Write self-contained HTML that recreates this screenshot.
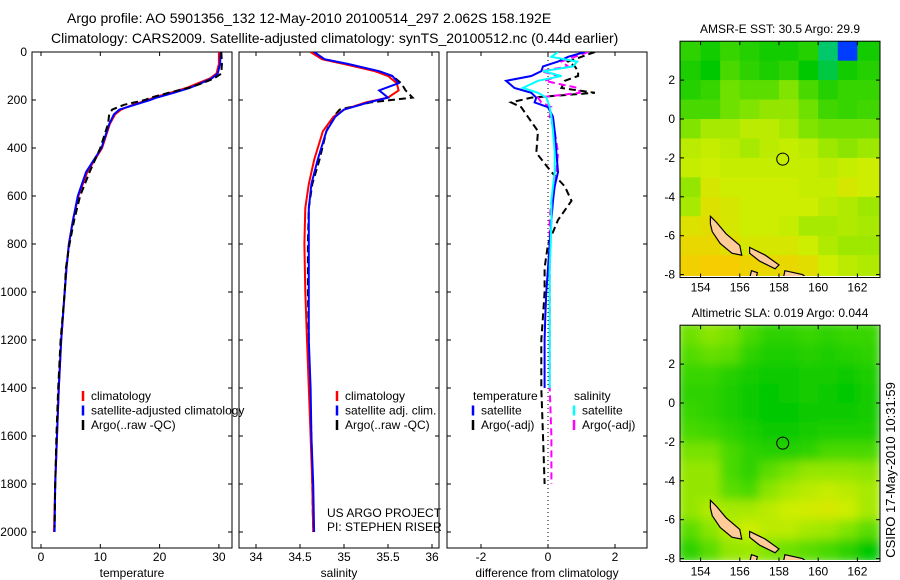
<!DOCTYPE html>
<html><head><meta charset="utf-8"><style>
body{margin:0;background:#fff}
svg{display:block;font-family:"Liberation Sans",sans-serif}
</style></head><body>
<svg id="fig" width="900" height="580" viewBox="0 0 900 580">
<defs>
<filter id="blur" x="0" y="0" width="1" height="1"><feGaussianBlur stdDeviation="5"/></filter>
<clipPath id="clipSst"><rect x="680" y="41" width="200" height="235"/></clipPath>
<clipPath id="clipSla"><rect x="680" y="325" width="200" height="235"/></clipPath>
<clipPath id="clipP1"><rect x="32" y="52" width="199" height="496"/></clipPath>
<clipPath id="clipP2"><rect x="239" y="52" width="200" height="496"/></clipPath>
<clipPath id="clipP3"><rect x="447" y="52" width="200" height="496"/></clipPath>
</defs>
<text x="67" y="23" font-size="14">Argo profile: AO 5901356_132 12-May-2010 20100514_297 2.062S 158.192E</text>
<text x="51" y="43" font-size="14">Climatology: CARS2009. Satellite-adjusted climatology: synTS_20100512.nc (0.44d earlier)</text>
<g id="g"></g>
<text transform="translate(895,470) rotate(-90)" text-anchor="middle" font-size="13">CSIRO 17-May-2010 10:31:59</text>
</svg>
<script>
// ---- profile data (depth in dbar) ----
const tClimDepth=[0,50,90,110,130,150,170,190,200,220,240,260,300,400,500,600,700,800,900,1000,1200,1400,1600,1800,2000];
const tClimVal=[30.0,30.0,29.6,28.5,26.5,24.5,21.8,19.0,18.0,15.5,13.5,12.5,11.6,10.3,7.8,6.3,5.4,4.7,4.3,4.0,3.4,3.0,2.7,2.4,2.2];
const tSatVal=[30.3,30.2,29.8,28.8,27.0,25.0,22.4,19.5,18.4,15.8,13.2,12.3,11.5,10.2,7.6,6.2,5.4,4.7,4.3,4.0,3.4,3.0,2.7,2.4,2.3];
const tArgoDepth=[0,50,90,110,130,150,170,190,200,220,240,260,300,400,500,600,700,800,900,1000,1200,1400,1600,1800,1980];
const tArgoVal=[30.4,30.5,30.4,29.2,27.2,24.8,21.5,18.5,17.5,14.0,12.0,11.5,11.3,10.0,8.2,6.6,5.6,4.8,4.2,4.0,3.3,2.9,2.6,2.4,2.3];
const sClimDepth=[0,30,50,80,100,130,160,190,210,240,270,330,450,550,650,800,1000,1200,1400,1600,1800,2000];
const sClimVal=[34.62,34.75,35.0,35.35,35.5,35.6,35.62,35.5,35.25,35.0,34.88,34.76,34.66,34.6,34.56,34.55,34.56,34.58,34.6,34.62,34.64,34.65];
const sSatVal=[34.66,34.78,35.05,35.4,35.55,35.62,35.4,35.5,35.28,35.0,34.9,34.8,34.7,34.63,34.6,34.6,34.6,34.6,34.62,34.63,34.65,34.66];
const sArgoVal=[34.64,34.76,35.02,35.38,35.55,35.65,35.7,35.78,35.3,34.95,34.88,34.8,34.72,34.64,34.6,34.59,34.59,34.6,34.61,34.63,34.64,34.65];
const dDepth=[0,20,40,60,80,100,120,150,170,190,210,230,270,330,420,500,560,620,700,800,900,1000,1100,1200,1300,1400,1600,1800];
const dTempSat=[1.1,0.6,0.3,-0.15,-0.2,-0.5,-1.25,-1.0,-0.5,-0.35,-0.4,0.0,0.15,0.2,0.25,0.3,0.2,0.15,0.1,0.05,0.0,-0.05,-0.08,-0.1,-0.1,-0.1,null,null];
const dSalSat=[0.3,0.1,0.87,0.75,-0.15,0.4,-0.3,-0.75,-0.3,-0.05,0.0,0.05,0.1,0.15,0.2,0.2,0.15,0.1,0.1,0.08,0.05,0.05,0.05,0.05,0.05,0.05,null,null];
const dTempArgo=[1.4,1.0,0.6,0.8,0.9,0.9,0.5,0.4,1.4,-0.5,-1.1,-0.8,-0.6,-0.3,-0.35,0.1,0.5,0.7,0.3,0.0,-0.1,-0.1,-0.15,-0.2,-0.2,-0.2,-0.15,-0.1];
const dSalArgo=[1.2,0.8,0.4,0.6,-0.2,0.3,-0.1,0.9,0.95,-0.3,-0.2,0.1,0.05,0.2,0.3,0.25,0.2,0.1,0.05,0.05,0.05,0.05,0.05,0.05,0.05,0.05,0.1,0.1];
const depthTicks=[0,200,400,600,800,1000,1200,1400,1600,1800,2000];
const tempTicks=[0,10,20,30];
const salTicks=[34,34.5,35,35.5,36];
const diffTicks=[-2,0,2];
// ---- map data (rows lat 4 -> -8, cols lon 153 -> 163) ----
const mapLons=[153,154,155,156,157,158,159,160,161,162];
const mapLats=[4,3,2,1,0,-1,-2,-3,-4,-5,-6,-7];
const sstGrid=[
[0.55,0.52,0.56,0.54,0.52,0.52,0.54,0.42,0.20,0.52],
[0.53,0.50,0.58,0.55,0.53,0.55,0.50,0.45,0.52,0.54],
[0.54,0.56,0.62,0.60,0.60,0.64,0.58,0.54,0.56,0.56],
[0.58,0.58,0.62,0.64,0.66,0.66,0.62,0.57,0.56,0.57],
[0.64,0.68,0.68,0.70,0.70,0.68,0.64,0.62,0.62,0.62],
[0.70,0.71,0.70,0.68,0.70,0.71,0.70,0.67,0.65,0.67],
[0.71,0.72,0.71,0.71,0.71,0.71,0.71,0.70,0.71,0.72],
[0.66,0.74,0.72,0.72,0.72,0.72,0.71,0.71,0.74,0.72],
[0.68,0.76,0.74,0.72,0.72,0.72,0.72,0.70,0.69,0.67],
[0.76,0.77,0.74,0.72,0.72,0.71,0.68,0.68,0.69,0.68],
[0.79,0.79,0.77,0.74,0.74,0.74,0.72,0.69,0.67,0.67],
[0.81,0.82,0.82,0.80,0.79,0.79,0.77,0.72,0.70,0.69]];
const slaGrid=[
[0.62,0.65,0.63,0.58,0.55,0.55,0.56,0.55,0.56,0.56],
[0.59,0.61,0.60,0.55,0.53,0.53,0.54,0.53,0.54,0.55],
[0.56,0.56,0.54,0.52,0.51,0.51,0.52,0.52,0.51,0.53],
[0.55,0.55,0.53,0.51,0.50,0.51,0.52,0.51,0.50,0.52],
[0.56,0.55,0.53,0.51,0.50,0.50,0.51,0.51,0.51,0.52],
[0.58,0.57,0.55,0.53,0.51,0.51,0.52,0.53,0.53,0.53],
[0.63,0.63,0.58,0.55,0.54,0.54,0.55,0.58,0.58,0.58],
[0.66,0.66,0.58,0.55,0.60,0.63,0.66,0.66,0.66,0.65],
[0.66,0.66,0.60,0.58,0.65,0.68,0.70,0.71,0.70,0.68],
[0.66,0.69,0.68,0.68,0.70,0.72,0.73,0.74,0.72,0.68],
[0.60,0.65,0.70,0.72,0.70,0.70,0.68,0.67,0.64,0.60],
[0.55,0.60,0.66,0.67,0.64,0.62,0.60,0.58,0.55,0.50]];
const argoLon=158.192, argoLat=-2.062;
const sstLabel="AMSR-E SST: 30.5 Argo: 29.9";
const slaLabel="Altimetric SLA: 0.019 Argo: 0.044";
const mapLonTicks=[154,156,158,160,162];
const mapLatTicks=[2,0,-2,-4,-6,-8];

const NS="http://www.w3.org/2000/svg";
const G=document.getElementById('g');
function mk(tag,attrs,parent){const e=document.createElementNS(NS,tag);for(const k in attrs)e.setAttribute(k,attrs[k]);(parent||G).appendChild(e);return e;}
function txt(x,y,s,size,anchor,parent){const e=mk('text',{x:x,y:y,'font-size':size,'text-anchor':anchor||'start'},parent);e.textContent=s;return e;}

const yD=d=>52+d*0.24;
const xT=t=>41+t*5.93;
const xS=s=>256+(s-34)*88;
const xDf=v=>548+v*33.5;

function panel(x0,name,ticks,xf,label){
  const r=mk('rect',{x:x0,y:52,width:200,height:496,fill:'none',stroke:'#000','stroke-width':1});
  
  
  depthTicks.forEach(d=>{mk('line',{x1:x0,x2:x0+4,y1:yD(d),y2:yD(d),stroke:'#000'});mk('line',{x1:x0+196,x2:x0+200,y1:yD(d),y2:yD(d),stroke:'#000'});});
  ticks.forEach(v=>{const x=xf(v);mk('line',{x1:x,x2:x,y1:548,y2:544,stroke:'#000'});mk('line',{x1:x,x2:x,y1:52,y2:56,stroke:'#000'});
    const t=txt(x,561,String(v),12,'middle');});
  const lt=txt(x0+100,577,label,12,'middle');
  
  
}
panel(32,'temperature-panel',tempTicks,xT,'temperature');
panel(239,'salinity-panel',salTicks,xS,'salinity');
panel(447,'difference-panel',diffTicks,xDf,'difference from climatology');
depthTicks.forEach(d=>{const t=txt(27,yD(d)+4,String(d),12,'end');});

function line(depths,vals,xf,color,w,dash,clip,name){
  let pts=[];depths.forEach((d,i)=>{if(vals[i]!==null)pts.push(xf(vals[i]).toFixed(1)+','+yD(d).toFixed(1));});
  const p=mk('polyline',{points:pts.join(' '),fill:'none',stroke:color,'stroke-width':w,'clip-path':'url(#'+clip+')'});
  if(dash)p.setAttribute('stroke-dasharray',dash);
  
  
}
line(tClimDepth,tClimVal,xT,'#f00',2,null,'clipP1','temperature-climatology-line');
line(tClimDepth,tSatVal,xT,'#00f',2,null,'clipP1','temperature-satellite-line');
line(tArgoDepth,tArgoVal,xT,'#000',2,'7,4','clipP1','temperature-argo-line');
line(sClimDepth,sArgoVal,xS,'#000',2,'7,4','clipP2','salinity-argo-line');
line(sClimDepth,sClimVal,xS,'#f00',2,null,'clipP2','salinity-climatology-line');
line(sClimDepth,sSatVal,xS,'#00f',2,null,'clipP2','salinity-satellite-line');
const zl=mk('line',{x1:xDf(0),x2:xDf(0),y1:52,y2:548,stroke:'#000','stroke-dasharray':'1,3'});


line(dDepth,dTempArgo,xDf,'#000',2,'7,4','clipP3','temperature-argo-diff-line');
line(dDepth,dSalArgo,xDf,'#f0f',2,'7,4','clipP3','salinity-argo-diff-line');
line(dDepth,dTempSat,xDf,'#00f',2,null,'clipP3','temperature-satellite-diff-line');
line(dDepth,dSalSat,xDf,'#0ff',2,null,'clipP3','salinity-satellite-diff-line');

function legend(x,y,items,name){
  items.forEach((it,i)=>{const yy=y+i*14.5;
    if(it[0]){mk('line',{x1:x,x2:x,y1:yy-6,y2:yy+4,stroke:it[0],'stroke-width':2.5});}
    const t=txt(x+(it[0]?8:0),yy+3,it[1],12,'start');
    
    });
}
legend(83,397,[['#f00','climatology'],['#00f','satellite-adjusted climatology'],['#000','Argo(..raw -QC)']],'temperature-legend');
legend(337,397,[['#f00','climatology'],['#00f','satellite adj. clim.'],['#000','Argo(..raw -QC)']],'salinity-legend');
legend(473,397,[[null,' temperature'],['#00f','satellite'],['#000','Argo(-adj)']],'diff-temperature-legend');
legend(574,397,[[null,' salinity'],['#0ff','satellite'],['#f0f','Argo(-adj)']],'diff-salinity-legend');
const c1=txt(327,517,'US ARGO PROJECT',12);
const c2=txt(327,531,'PI: STEPHEN RISER',12);

// ---- maps ----
function cmap(t){
  const st=[[0,0,0,140],[0.2,0,60,255],[0.35,0,200,200],[0.5,0,200,0],[0.62,110,225,0],[0.72,205,238,0],[0.82,245,205,0],[0.92,245,150,0],[1,220,60,0]];
  for(let i=1;i<st.length;i++){if(t<=st[i][0]){const a=st[i-1],b=st[i],f=(t-a[0])/(b[0]-a[0]);
    return 'rgb('+[1,2,3].map(k=>Math.round(a[k]+(b[k]-a[k])*f)).join(',')+')';}}
  return 'rgb(220,60,0)';
}
const mx=lon=>680+(lon-152.95)*19.6;
const islands=[
[[154.5,-5.0],[154.8,-5.3],[155.3,-5.9],[156.0,-6.5],[156.1,-7.0],[155.6,-6.9],[155.0,-6.4],[154.6,-5.8],[154.5,-5.4]],
[[156.5,-6.6],[157.3,-7.0],[158.0,-7.5],[157.8,-7.7],[157.0,-7.3],[156.5,-6.9]],
[[158.3,-7.8],[159.2,-8.0],[159.6,-8.3],[158.2,-8.3]],
[[156.6,-7.8],[156.9,-7.9],[156.8,-8.3],[156.5,-8.2]]];
function mapPanel(y0,grid,title,clip,blur,name){
  const my=lat=>y0-(lat)*19.45;
  const g=mk('g',{'clip-path':'url(#'+clip+')'});
  
  
  const inner=mk('g',blur?{filter:'url(#blur)'}:{},g);
  grid.forEach((row,r)=>row.forEach((v,c)=>{
    const x=mx(mapLons[c]),y=my(mapLats[r]);
    const cell=mk('rect',{x:x-(c==0?4:0),y:y-(r==0?4:0),width:mx(mapLons[c]+1)-x+0.6+(c==0||c==9?4:0),height:my(mapLats[r]-1)-y+0.6+(r==0||r==11?4:0),fill:cmap(v)},inner);
    
    
  }));
  islands.forEach(poly=>{const p=mk('polygon',{points:poly.map(q=>mx(q[0]).toFixed(1)+','+my(q[1]).toFixed(1)).join(' '),fill:'#fc9',stroke:'#000','stroke-width':1.2},g);
    });
  const ci=mk('circle',{cx:mx(argoLon),cy:my(argoLat),r:6,fill:'none',stroke:'#000','stroke-width':1});
  
  
  const top=my(4.0),bot=my(-8.15);
  mk('rect',{x:680,y:top,width:200,height:bot-top,fill:'none',stroke:'#000'});
  mapLonTicks.forEach(l=>{mk('line',{x1:mx(l),x2:mx(l),y1:bot,y2:bot-4,stroke:'#000'});mk('line',{x1:mx(l),x2:mx(l),y1:top,y2:top+4,stroke:'#000'});
    const t=txt(mx(l),bot+14,String(l),12,'middle');});
  mapLatTicks.forEach(l=>{mk('line',{x1:680,x2:684,y1:my(l),y2:my(l),stroke:'#000'});mk('line',{x1:876,x2:880,y1:my(l),y2:my(l),stroke:'#000'});
    const t=txt(675,my(l)+4,String(l),12,'end');});
  const tt=txt(780,top-8,title,12,'middle');
  
  
}
mapPanel(119,sstGrid,sstLabel,'clipSst',false,'sst-map');
mapPanel(403,slaGrid,slaLabel,'clipSla',true,'sla-map');
</script>
</body></html>
